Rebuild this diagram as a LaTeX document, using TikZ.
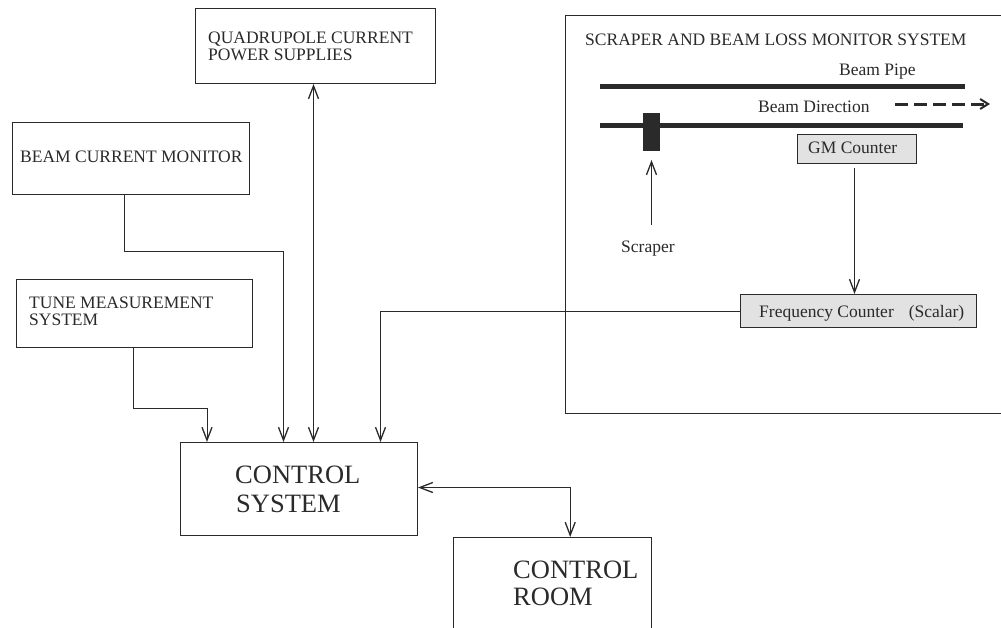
\documentclass[tikz,border=0pt]{standalone}
\usepackage{fontspec}
\setmainfont{Liberation Serif}
\usetikzlibrary{arrows.meta}
\definecolor{ink}{HTML}{2A2A2A}
\definecolor{boxfill}{HTML}{E2E2E2}
\begin{document}
\begin{tikzpicture}[x=1pt,y=-1pt,
  box/.style={draw=ink, line width=1pt, rectangle, inner sep=0pt, anchor=north west},
  openbox/.style={rectangle, inner sep=0pt, anchor=north west},
  gbox/.style={box, fill=boxfill},
  lbl/.style={text=ink, inner sep=0pt, anchor=base west, font=\fontsize{17.5}{17}\selectfont},
  big/.style={lbl, font=\fontsize{26.5}{28}\selectfont},
  tip/.style={Straight Barb[length=13pt,width=10pt,line width=1.3pt]},
  conn/.style={draw=ink, line width=0.9pt, -{Straight Barb[length=13pt,width=10pt,line width=1.3pt]}},
  dconn/.style={draw=ink, line width=0.9pt, {Straight Barb[length=13pt,width=10pt,line width=1.3pt]}-{Straight Barb[length=13pt,width=10pt,line width=1.3pt]}},
  pipe/.style={draw=ink, line width=5pt},
  frameline/.style={draw=ink, line width=1pt}]
\useasboundingbox (0,0) rectangle (1001,627);
\fill[white] (0,0) rectangle (1001,627);

% left boxes
\node[box, minimum width=240, minimum height=75] (quad) at (195,8) {};
\node[lbl] (quadA) at (208,43) {QUADRUPOLE CURRENT};
\node[lbl] (quadB) at (208,60) {POWER SUPPLIES};

\node[box, minimum width=237, minimum height=72] (bcm) at (12,122) {};
\node[lbl] (bcmA) at (20,162) {BEAM CURRENT MONITOR};

\node[box, minimum width=236, minimum height=68] (tune) at (16,279) {};
\node[lbl] (tuneA) at (29,308) {TUNE MEASUREMENT};
\node[lbl] (tuneB) at (29,325) {SYSTEM};

\node[box, minimum width=237, minimum height=93] (cs) at (180,442) {};
\node[big] (csA) at (235,483) {CONTROL};
\node[big] (csB) at (236,512) {SYSTEM};

\node[openbox, minimum width=198, minimum height=100] (room) at (453,537) {};
\draw[frameline] (room.south west) -- (room.north west) -- (room.north east) -- (room.south east);
\node[big] (roomA) at (513,578) {CONTROL};
\node[big] (roomB) at (513,605) {ROOM};

% scraper system frame
\node[openbox, minimum width=445, minimum height=398] (frame) at (565,15) {};
\draw[frameline] (frame.north east) -- (frame.north west) -- (frame.south west) -- (frame.south east);
\node[lbl] (frameT) at (585,45) {SCRAPER AND BEAM LOSS MONITOR SYSTEM};

\node[lbl] (pipeT) at (839,75) {Beam Pipe};
\coordinate (p1a) at (600,86);
\coordinate (p1b) at (965,86);
\draw[pipe] (p1a) -- (p1b);
\node[lbl] (dirT) at (758,112) {Beam Direction};
\coordinate (d1) at (895,104);
\coordinate (d2) at (990,104);
\draw[draw=ink, line width=3pt, dash pattern=on 13pt off 6pt, -{Straight Barb[length=8pt,width=10pt,line width=2pt]}] (d1) -- (d2);
\coordinate (p2a) at (600,125.5);
\coordinate (p2b) at (963,125.5);
\draw[pipe] (p2a) -- (p2b);

\node[box, fill=ink, minimum width=16, minimum height=37] (block) at (643,113) {};
\node[lbl] (scrT) at (621,252) {Scraper};
\draw[conn] ([yshift=-74]block.south) -- ([yshift=-9]block.south);

\node[gbox, minimum width=119, minimum height=29] (gm) at (797,134) {};
\node[lbl] (gmT) at (808,153) {GM Counter};

\node[gbox, minimum width=236, minimum height=33] (freq) at (740,294) {};
\node[lbl] (freqT) at (759,317) {Frequency Counter\hspace{15pt}(Scalar)};

\draw[conn] ([xshift=-2.5,yshift=-4]gm.south) -- ([xshift=-2.5]gm.south |- freq.north);

% connectors to control system
\draw[conn] ([xshift=-7]bcm.south) -- ++(0,56) -| ([xshift=-15.5]cs.north);
\draw[conn] ([xshift=-1]tune.south) -- ++(0,60) -| ([xshift=-92]cs.north);
\draw[dconn] ([xshift=-2]quad.south) -- ([xshift=-2]quad.south |- cs.north);
\draw[conn] (freq.west) -| ([xshift=81.5]cs.north);
\draw[dconn] ([yshift=1.5]cs.east) -| ([xshift=18]room.north);
\end{tikzpicture}
\end{document}
